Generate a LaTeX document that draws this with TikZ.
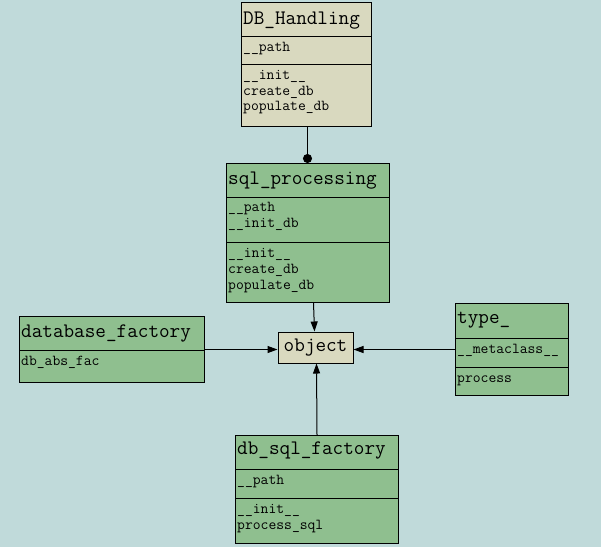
\documentclass[tikz,border=0pt]{standalone}
\usepackage{fontspec}
\usetikzlibrary{arrows.meta}

\definecolor{canvasbg}{HTML}{C0DADA}
\definecolor{classgreen}{HTML}{8FBF8F}
\definecolor{classbeige}{HTML}{D9D9BF}

\tikzset{
  cls/.style={draw=black, line width=1pt, inner sep=0pt, anchor=north west},
  sep/.style={draw=black, line width=1pt},
  ttl/.style={anchor=base west, inner sep=0pt, font=\ttfamily\fontsize{20.6}{22}\selectfont},
  mem/.style={anchor=base west, inner sep=0pt, font=\ttfamily\fontsize{15.2}{17}\selectfont},
  inherit/.style={draw=black, line width=1pt, -{Triangle[length=10pt, width=7pt]}},
  compose/.style={draw=black, line width=1pt, -{Circle[length=9pt]}},
}

\begin{document}
\begin{tikzpicture}[x=1pt, y=-1pt]
  \fill[canvasbg] (0,0) rectangle (601,547);
  \useasboundingbox (0,0) rectangle (601,547);

  % DB_Handling
  \node[cls, fill=classbeige, minimum width=130pt, minimum height=124pt] (dbh) at (241,2) {};
  \draw[sep] (241,36) -- (371,36);
  \draw[sep] (241,64) -- (371,64);
  \node[ttl] (dbhT) at (243,24) {DB\_Handling};
  \node[mem] (dbhA1) at (243,51) {\_\_path};
  \node[mem] (dbhM1) at (243,79) {\_\_init\_\_};
  \node[mem] (dbhM2) at (243,95) {create\_db};
  \node[mem] (dbhM3) at (243,110) {populate\_db};

  % sql_processing
  \node[cls, fill=classgreen, minimum width=163pt, minimum height=139pt] (sqlp) at (226,163) {};
  \draw[sep] (226,197) -- (389,197);
  \draw[sep] (226,242) -- (389,242);
  \node[ttl] (sqlpT) at (228,184) {sql\_processing};
  \node[mem] (sqlpA1) at (228,211) {\_\_path};
  \node[mem] (sqlpA2) at (228,227) {\_\_init\_db};
  \node[mem] (sqlpM1) at (228,257) {\_\_init\_\_};
  \node[mem] (sqlpM2) at (228,273) {create\_db};
  \node[mem] (sqlpM3) at (228,289) {populate\_db};

  % database_factory
  \node[cls, fill=classgreen, minimum width=185pt, minimum height=66pt] (dbf) at (19,316) {};
  \draw[sep] (19,350) -- (204,350);
  \node[ttl] (dbfT) at (21,337) {database\_factory};
  \node[mem] (dbfA1) at (21,365) {db\_abs\_fac};

  % type_
  \node[cls, fill=classgreen, minimum width=113pt, minimum height=92pt] (typ) at (455,303) {};
  \draw[sep] (455,338) -- (568,338);
  \draw[sep] (455,367) -- (568,367);
  \node[ttl] (typT) at (457,323) {type\_};
  \node[mem] (typA1) at (457,353) {\_\_metaclass\_\_};
  \node[mem] (typM1) at (457,382) {process};

  % db_sql_factory
  \node[cls, fill=classgreen, minimum width=163pt, minimum height=108pt] (dsf) at (235,435) {};
  \draw[sep] (235,469) -- (398,469);
  \draw[sep] (235,498) -- (398,498);
  \node[ttl] (dsfT) at (237,454) {db\_sql\_factory};
  \node[mem] (dsfA1) at (237,484) {\_\_path};
  \node[mem] (dsfM1) at (237,513) {\_\_init\_\_};
  \node[mem] (dsfM2) at (237,529) {process\_sql};

  % object
  \node[draw=black, line width=1pt, fill=classbeige, minimum width=75pt, minimum height=31pt,
        inner sep=0pt, font=\ttfamily\fontsize{20.6}{22}\selectfont] (object) at (315.5,347.5) {object};

  % connectors
  \draw[compose] ([xshift=1pt]dbh.south) -- ([xshift=-0.5pt]sqlp.north);
  \draw[inherit] ([xshift=5.5pt]sqlp.south) -- ([xshift=-1pt]object.north);
  \draw[inherit] (dsf.north) -- ([xshift=1pt]object.south);
  \draw[inherit] (dbf.east) -- (dbf.east -| object.west);
  \draw[inherit] (typ.west) -- (typ.west -| object.east);
\end{tikzpicture}
\end{document}
